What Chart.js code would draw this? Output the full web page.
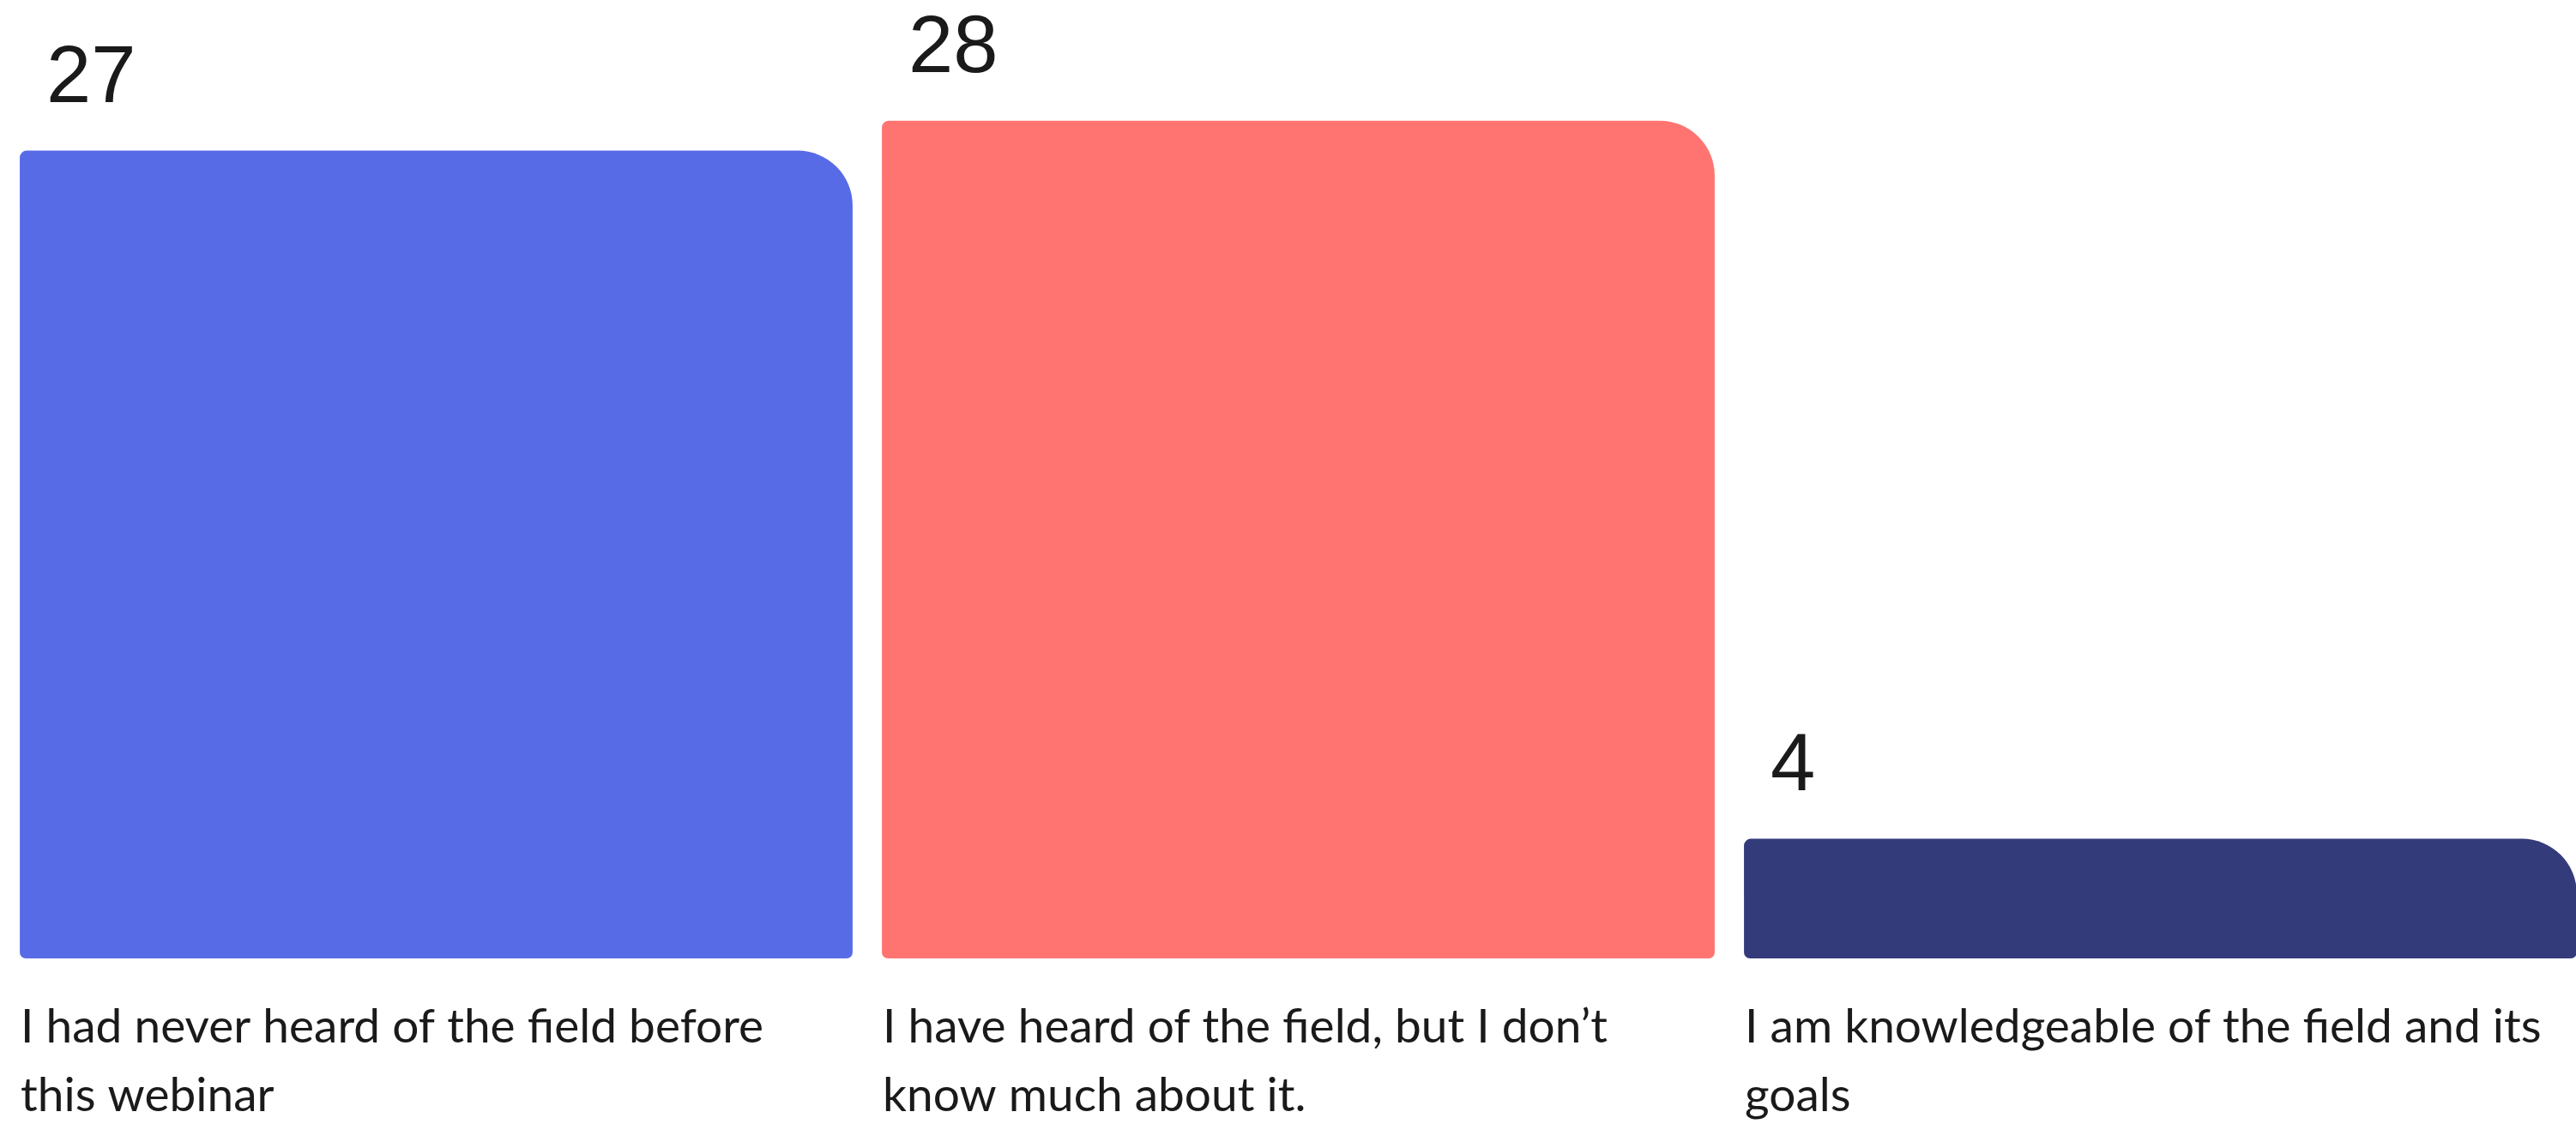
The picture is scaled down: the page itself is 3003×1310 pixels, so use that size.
<!DOCTYPE html>
<html>
<head>
<meta charset="utf-8">
<script src="https://cdn.jsdelivr.net/npm/chart.js@4/dist/chart.umd.min.js"></script>
<style>
    html, body { margin: 0; padding: 0; background: #fff; overflow: hidden; }
    #wrap { width: 3021px; height: 1310px; }
</style>
</head>
<body>
<div id="wrap"><canvas id="graph"></canvas></div>
<script>
const categories = [
    ['I had never heard of the field before', 'this webinar'],
    ['I have heard of the field, but I don\u2019t', 'know much about it.'],
    ['I am knowledgeable of the field and its', 'goals']
];
const responses = [27, 28, 4];
const barColors = ['#586BE6', '#FF7471', '#333B7A'];

// value labels above each bar, category text under it
const labelPlugin = {
    id: 'barLabels',
    afterDatasetsDraw: function (chart) {
        const ctx = chart.ctx;
        const bars = chart.getDatasetMeta(0).data;
        const bottom = chart.chartArea.bottom;
        ctx.save();
        ctx.fillStyle = '#1a1a1a';
        ctx.textAlign = 'left';
        ctx.textBaseline = 'alphabetic';
        for (let i = 0; i < bars.length; i++) {
            const bar = bars[i];
            const left = bar.x - bar.width / 2;

            ctx.font = '94px "Liberation Sans", Arial, sans-serif';
            ctx.fillText(String(responses[i]), left + 31, bar.y - 57);

            ctx.font = '55px Lato, sans-serif';
            const lines = categories[i];
            for (let j = 0; j < lines.length; j++) {
                ctx.fillText(lines[j], left + 1, bottom + 98 + j * 80);
            }
        }
        ctx.restore();
    }
};

const context = document.getElementById('graph');
new Chart(context, {
    type: 'bar',
    data: {
        labels: categories,
        datasets: [
            {
                data: responses,
                backgroundColor: barColors,
                borderSkipped: false,
                borderRadius: { topLeft: 8, topRight: 64, bottomLeft: 7, bottomRight: 7 },
                categoryPercentage: 1,
                barPercentage: 0.966
            }
        ]
    },
    options: {
        responsive: true,
        maintainAspectRatio: false,
        animation: false,
        devicePixelRatio: 1,
        layout: { padding: { left: 6, right: 0, top: 71, bottom: 193 } },
        plugins: {
            legend: { display: false },
            tooltip: { enabled: false }
        },
        scales: {
            x: { display: false },
            y: { display: false, min: 0, max: 30 }
        }
    },
    plugins: [labelPlugin]
});
</script>
</body>
</html>
